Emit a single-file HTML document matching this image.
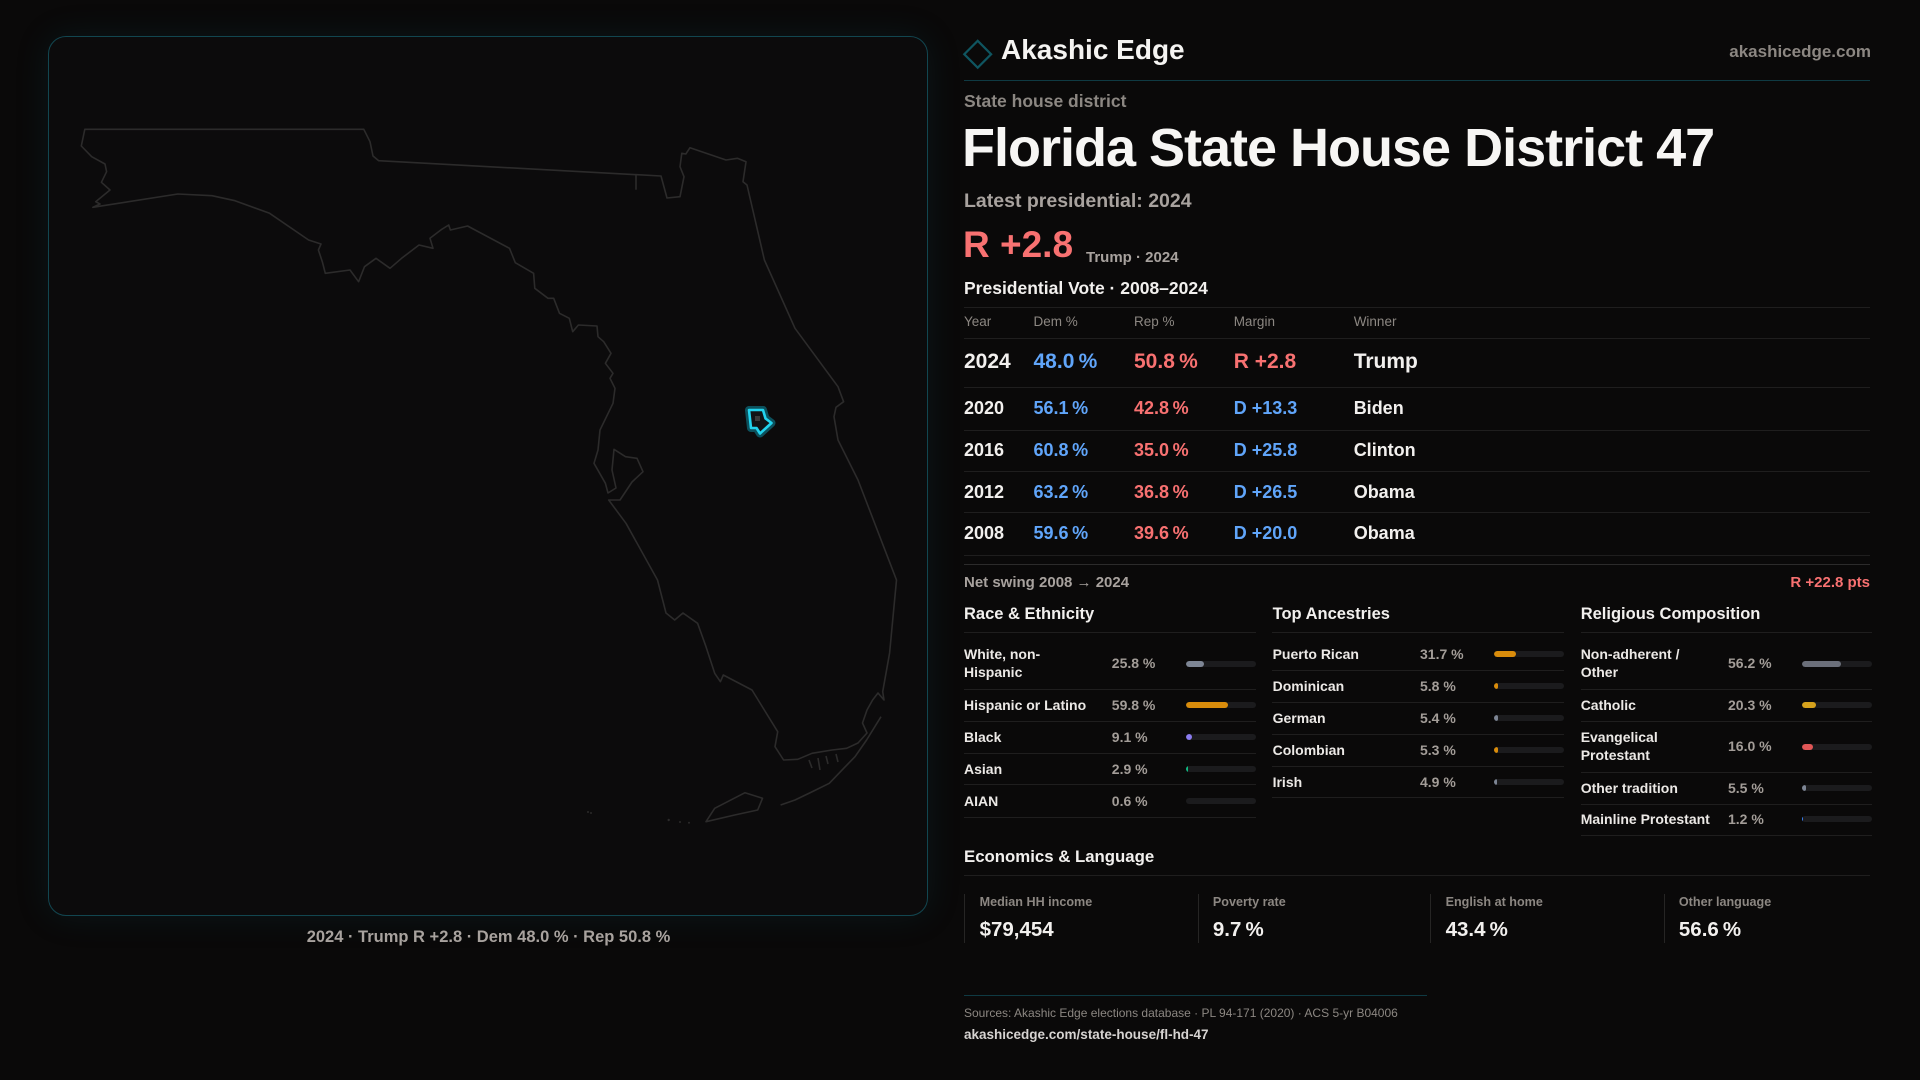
<!DOCTYPE html>
<html><head><meta charset="utf-8">
<style>
*{margin:0;padding:0;box-sizing:border-box}
html,body{width:1920px;height:1080px;background:#0a0909;overflow:hidden}
body{position:relative;font-family:"Liberation Sans",sans-serif;font-weight:700;color:#f2f0ee}
.t{position:absolute;white-space:nowrap}
.m{color:#8c8782}
.g{color:#a8a29e}
.b{color:#60a5fa}
.r{color:#f87171}
.hl{position:absolute;height:1px;background:#1f1e1e}
.bar{position:absolute;height:6px;width:70px;border-radius:3px;background:#1b1b1d;overflow:hidden}
.bar i{position:absolute;left:0;top:0;bottom:0;border-radius:3px}
.h18{font-size:18px;line-height:22px}
.h21{font-size:21px;line-height:26px}
.s14{font-size:14px;line-height:18px}
.lbl{font-size:14px;line-height:18.3px;color:#ece9e6}
.pct{font-size:14px;line-height:18px;color:#a39d98}
.sec{font-size:16.5px;line-height:20px;color:#f2f0ee}
.card{position:absolute;top:894px;height:49px;border-left:1px solid #262524;width:233px}
</style></head><body>

<!-- map panel -->
<div style="position:absolute;left:48px;top:36px;width:880px;height:880px;border:1px solid #124650;border-radius:18px;background:#0c0b0c;box-shadow:0 0 34px rgba(16,95,110,0.16)"></div>

<svg style="position:absolute;left:0;top:0" width="1920" height="1080" viewBox="0 0 1920 1080">
  <g fill="none" stroke="#2c2b2b" stroke-width="1.6" stroke-linejoin="round">
    <path d="M84.8,129.3 L363.8,129.3 L370,141.7 L373,156 L378.7,160.7 L661,176 L667,198 L680,196.7 L684,176.7 L680,166.7 L681.8,153.3 L685.8,154 L690,147.7 L726,160 L737.4,158.3 L746,161.7 L743,181.7 L747,185 L764.4,260 L795,328.3 L838,386.7 L843.6,401.7 L836,407.3 L834,416.7 L838,440 L858,480 L896.5,580 L889.6,653 L882.7,691.7 L884,700 L878,693 L872.6,700 L867,710 L862.5,723 L867,733 L858,743 L846.6,748.3 L832,750 L812,753.3 L797.8,759.3 L783.6,760 L775,746.7 L777.7,731.7 L752,690 L723.3,675 L720.4,681.7 L714.7,673.3 L706,646.7 L697.6,623.3 L683,613 L674.7,620 L666,613 L657.5,580 L626,523.3 L608.7,500 L620,500 L632,482 L643,471.7 L637,458.3 L625.5,456.7 L614,449.3 L612,470 L616,488 L608,493 L605.4,483.3 L594,463.3 L598,450 L600,430 L613,403.3 L615,388.3 L610,378.3 L613,373.3 L605.4,363.3 L611,353.3 L603.7,341.7 L598,336.7 L597,326 L578.4,325 L572.7,331.7 L569.3,318.3 L559.5,313.3 L553.7,298.3 L548,298.3 L534.8,288.3 L533.6,273.3 L515.3,262.7 L509.5,248.3 L467.6,226 L450.4,230 L448.7,225 L441.8,229.3 L430,238.3 L433,248.3 L419,245 L401.6,258.3 L390,268.3 L376,258.3 L364.5,266.7 L358.6,281.7 L350,270 L325.3,273.3 L322.4,262 L318.4,250 L321,244 L308.6,240 L269.6,213.3 L235,200.7 L212,195.7 L177.8,194 L92.8,207.3 L100,204 L95.7,201.7 L110,190 L101.4,182.3 L106.6,171.7 L105,164 L91.7,156.7 L81.3,146 Z"/>
    <path d="M636,174.7 L636,189.7"/>
    <path d="M881,716.7 L866.6,740 L855,756.7 L843.7,768.3 L829.3,783.3 L809.6,793 L795,800 L780.6,805"/>
    <path d="M762.5,798.3 L757.7,810 L734.7,815 L706,821.7 L714.7,808.3 L745,792.7 Z"/>
    <path d="M809,760 L812,768 M818,758 L820,770 M826,756 L828,764 M836,754 L838,762"/>
  </g>
  <g fill="#2c2b2b">
    <circle cx="588" cy="812" r="1"/><circle cx="591" cy="813" r="1"/>
    <circle cx="668.7" cy="820" r="1.2"/><circle cx="680" cy="822" r="1"/><circle cx="689" cy="822.7" r="1"/>
  </g>
  <!-- district -->
  <path d="M749,410 L763,410 L765.5,418.5 L771.5,423 L760,433.5 L756.5,428 L751,428 Z" fill="#111416" stroke="#0d6f80" stroke-opacity="0.7" stroke-width="8" stroke-linejoin="round"/>
  <path d="M749,410 L763,410 L765.5,418.5 L771.5,423 L760,433.5 L756.5,428 L751,428 Z" fill="#111416" stroke="#22d3ee" stroke-width="2.6" stroke-linejoin="round"/>
  <rect x="755" y="416" width="5" height="5" fill="#3a3a3a"/>
  <!-- logo diamond -->
  <rect x="968.2" y="44.8" width="19" height="19" fill="none" stroke="#0f5560" stroke-width="2.2" transform="rotate(45 977.7 54.3)"/>
</svg>

<div class="t g" style="left:0;width:977px;text-align:center;top:927px;font-size:16.5px;line-height:20px">2024 · Trump R +2.8 · Dem 48.0 % · Rep 50.8 %</div>

<!-- header -->
<div class="t" style="left:1001px;top:33px;font-size:28px;line-height:34px;color:#f5f4f2">Akashic Edge</div>
<div class="t m" style="right:49px;top:41.5px;font-size:17px;line-height:20px">akashicedge.com</div>
<div style="position:absolute;left:964px;top:80px;width:906px;height:1px;background:#0f3a43"></div>

<div class="t m" style="left:964px;top:91px;font-size:17.5px;line-height:21px">State house district</div>
<div class="t" style="left:962px;top:118px;font-size:54px;line-height:60px;letter-spacing:-1px;color:#f7f6f4">Florida State House District 47</div>
<div class="t g" style="left:964px;top:190px;font-size:19.5px;line-height:22px">Latest presidential: 2024</div>
<div class="t r" style="left:963px;top:223px;font-size:37px;line-height:44px">R +2.8</div>
<div class="t g" style="left:1086px;top:249px;font-size:15px;line-height:18px">Trump · 2024</div>
<div class="t" style="left:964px;top:277px;font-size:17.5px;line-height:22px">Presidential Vote · 2008–2024</div>

<!-- table -->
<div class="hl" style="left:964px;width:906px;top:307px"></div>
<div class="t m" style="left:964px;top:313px;font-size:13.5px;line-height:18px;font-weight:400">Year</div>
<div class="t m" style="left:1033.5px;top:313px;font-size:13.5px;line-height:18px;font-weight:400">Dem %</div>
<div class="t m" style="left:1134px;top:313px;font-size:13.5px;line-height:18px;font-weight:400">Rep %</div>
<div class="t m" style="left:1233.7px;top:313px;font-size:13.5px;line-height:18px;font-weight:400">Margin</div>
<div class="t m" style="left:1353.7px;top:313px;font-size:13.5px;line-height:18px;font-weight:400">Winner</div>
<div class="hl" style="left:964px;width:906px;top:338px"></div>

<div class="t h21" style="left:964px;top:348.7px">2024</div>
<div class="t h21 b" style="left:1033.5px;top:348.7px">48.0&thinsp;%</div>
<div class="t h21 r" style="left:1134px;top:348.7px">50.8&thinsp;%</div>
<div class="t h21 r" style="left:1233.7px;top:348.7px">R +2.8</div>
<div class="t h21" style="left:1353.7px;top:348.7px">Trump</div>
<div class="hl" style="left:964px;width:906px;top:387px"></div>

<div class="t h18" style="left:964px;top:397.3px">2020</div>
<div class="t h18 b" style="left:1033.5px;top:397.3px">56.1&thinsp;%</div>
<div class="t h18 r" style="left:1134px;top:397.3px">42.8&thinsp;%</div>
<div class="t h18 b" style="left:1233.7px;top:397.3px">D +13.3</div>
<div class="t h18" style="left:1353.7px;top:397.3px">Biden</div>
<div class="hl" style="left:964px;width:906px;top:430px"></div>

<div class="t h18" style="left:964px;top:439px">2016</div>
<div class="t h18 b" style="left:1033.5px;top:439px">60.8&thinsp;%</div>
<div class="t h18 r" style="left:1134px;top:439px">35.0&thinsp;%</div>
<div class="t h18 b" style="left:1233.7px;top:439px">D +25.8</div>
<div class="t h18" style="left:1353.7px;top:439px">Clinton</div>
<div class="hl" style="left:964px;width:906px;top:471px"></div>

<div class="t h18" style="left:964px;top:480.7px">2012</div>
<div class="t h18 b" style="left:1033.5px;top:480.7px">63.2&thinsp;%</div>
<div class="t h18 r" style="left:1134px;top:480.7px">36.8&thinsp;%</div>
<div class="t h18 b" style="left:1233.7px;top:480.7px">D +26.5</div>
<div class="t h18" style="left:1353.7px;top:480.7px">Obama</div>
<div class="hl" style="left:964px;width:906px;top:512px"></div>

<div class="t h18" style="left:964px;top:522.3px">2008</div>
<div class="t h18 b" style="left:1033.5px;top:522.3px">59.6&thinsp;%</div>
<div class="t h18 r" style="left:1134px;top:522.3px">39.6&thinsp;%</div>
<div class="t h18 b" style="left:1233.7px;top:522.3px">D +20.0</div>
<div class="t h18" style="left:1353.7px;top:522.3px">Obama</div>
<div class="hl" style="left:964px;width:906px;top:555px"></div>
<div class="hl" style="left:964px;width:906px;top:564px;background:#2c2b2b"></div>

<div class="t g" style="left:964px;top:573.7px;font-size:15px;line-height:18px">Net swing 2008 → 2024</div>
<div class="t r" style="right:50px;top:573.7px;font-size:15px;line-height:18px">R +22.8 pts</div>

<!-- Race & Ethnicity -->
<div class="t sec" style="left:964px;top:604px">Race &amp; Ethnicity</div>
<div class="hl" style="left:964px;width:292px;top:632px"></div>
<div class="t lbl" style="left:964px;top:645px">White, non-<br>Hispanic</div>
<div class="t pct" style="left:1111.8px;top:653.7px">25.8 %</div>
<div class="bar" style="left:1186px;top:661px"><i style="width:18px;background:#7d8594"></i></div>
<div class="hl" style="left:964px;width:292px;top:689px"></div>
<div class="t lbl" style="left:964px;top:696px">Hispanic or Latino</div>
<div class="t pct" style="left:1111.8px;top:696px">59.8 %</div>
<div class="bar" style="left:1186px;top:702px"><i style="width:42px;background:#d98c0b"></i></div>
<div class="hl" style="left:964px;width:292px;top:721px"></div>
<div class="t lbl" style="left:964px;top:727.7px">Black</div>
<div class="t pct" style="left:1111.8px;top:727.7px">9.1 %</div>
<div class="bar" style="left:1186px;top:733.7px"><i style="width:6.4px;background:#8b7cf0"></i></div>
<div class="hl" style="left:964px;width:292px;top:753px"></div>
<div class="t lbl" style="left:964px;top:760px">Asian</div>
<div class="t pct" style="left:1111.8px;top:760px">2.9 %</div>
<div class="bar" style="left:1186px;top:766px"><i style="width:2px;background:#10b981;border-radius:0"></i></div>
<div class="hl" style="left:964px;width:292px;top:784px"></div>
<div class="t lbl" style="left:964px;top:791.7px">AIAN</div>
<div class="t pct" style="left:1111.8px;top:791.7px">0.6 %</div>
<div class="bar" style="left:1186px;top:797.7px"></div>
<div class="hl" style="left:964px;width:292px;top:817px"></div>

<!-- Top Ancestries -->
<div class="t sec" style="left:1272.6px;top:604px">Top Ancestries</div>
<div class="hl" style="left:1272px;width:292px;top:632px"></div>
<div class="t lbl" style="left:1272.6px;top:645px">Puerto Rican</div>
<div class="t pct" style="left:1420px;top:645px">31.7 %</div>
<div class="bar" style="left:1494px;top:651px"><i style="width:22px;background:#d98c0b"></i></div>
<div class="hl" style="left:1272px;width:292px;top:670px"></div>
<div class="t lbl" style="left:1272.6px;top:677px">Dominican</div>
<div class="t pct" style="left:1420px;top:677px">5.8 %</div>
<div class="bar" style="left:1494px;top:683px"><i style="width:4px;background:#d98c0b"></i></div>
<div class="hl" style="left:1272px;width:292px;top:702px"></div>
<div class="t lbl" style="left:1272.6px;top:709px">German</div>
<div class="t pct" style="left:1420px;top:709px">5.4 %</div>
<div class="bar" style="left:1494px;top:715px"><i style="width:3.8px;background:#7d8594"></i></div>
<div class="hl" style="left:1272px;width:292px;top:734px"></div>
<div class="t lbl" style="left:1272.6px;top:741px">Colombian</div>
<div class="t pct" style="left:1420px;top:741px">5.3 %</div>
<div class="bar" style="left:1494px;top:747px"><i style="width:3.7px;background:#d98c0b"></i></div>
<div class="hl" style="left:1272px;width:292px;top:766px"></div>
<div class="t lbl" style="left:1272.6px;top:773px">Irish</div>
<div class="t pct" style="left:1420px;top:773px">4.9 %</div>
<div class="bar" style="left:1494px;top:779px"><i style="width:3.4px;background:#7d8594"></i></div>
<div class="hl" style="left:1272px;width:292px;top:797px"></div>

<!-- Religious Composition -->
<div class="t sec" style="left:1580.7px;top:604px">Religious Composition</div>
<div class="hl" style="left:1580.7px;width:291px;top:632px"></div>
<div class="t lbl" style="left:1580.7px;top:645px">Non-adherent /<br>Other</div>
<div class="t pct" style="left:1728px;top:654.3px">56.2 %</div>
<div class="bar" style="left:1802px;top:661px;width:69.5px"><i style="width:39px;background:#6b6f7a"></i></div>
<div class="hl" style="left:1580.7px;width:291px;top:689px"></div>
<div class="t lbl" style="left:1580.7px;top:696px">Catholic</div>
<div class="t pct" style="left:1728px;top:696px">20.3 %</div>
<div class="bar" style="left:1802px;top:702px;width:69.5px"><i style="width:14px;background:#d6a21c"></i></div>
<div class="hl" style="left:1580.7px;width:291px;top:721px"></div>
<div class="t lbl" style="left:1580.7px;top:727.5px">Evangelical<br>Protestant</div>
<div class="t pct" style="left:1728px;top:737px">16.0 %</div>
<div class="bar" style="left:1802px;top:743.7px;width:69.5px"><i style="width:11px;background:#e05656"></i></div>
<div class="hl" style="left:1580.7px;width:291px;top:771.7px"></div>
<div class="t lbl" style="left:1580.7px;top:779px">Other tradition</div>
<div class="t pct" style="left:1728px;top:779px">5.5 %</div>
<div class="bar" style="left:1802px;top:785px;width:69.5px"><i style="width:3.8px;background:#7d8594"></i></div>
<div class="hl" style="left:1580.7px;width:291px;top:804px"></div>
<div class="t lbl" style="left:1580.7px;top:810px">Mainline Protestant</div>
<div class="t pct" style="left:1728px;top:810px">1.2 %</div>
<div class="bar" style="left:1802px;top:816px;width:69.5px"><i style="width:1.2px;background:#3b82f6;border-radius:0"></i></div>
<div class="hl" style="left:1580.7px;width:291px;top:835px"></div>

<!-- Economics -->
<div class="t sec" style="left:964px;top:846.7px;font-size:16.8px">Economics &amp; Language</div>
<div class="hl" style="left:964px;width:906px;top:875px"></div>
<div class="card" style="left:964px"></div>
<div class="card" style="left:1197.6px"></div>
<div class="card" style="left:1430.3px"></div>
<div class="card" style="left:1663.6px"></div>
<div class="t m" style="left:979.6px;top:894.3px;font-size:12.6px;line-height:16px">Median HH income</div>
<div class="t m" style="left:1212.9px;top:894.3px;font-size:12.6px;line-height:16px">Poverty rate</div>
<div class="t m" style="left:1445.6px;top:894.3px;font-size:12.6px;line-height:16px">English at home</div>
<div class="t m" style="left:1678.9px;top:894.3px;font-size:12.6px;line-height:16px">Other language</div>
<div class="t" style="left:979.6px;top:916.5px;font-size:20.5px;line-height:25px">$79,454</div>
<div class="t" style="left:1212.9px;top:916.5px;font-size:20.5px;line-height:25px">9.7&thinsp;%</div>
<div class="t" style="left:1445.6px;top:916.5px;font-size:20.5px;line-height:25px">43.4&thinsp;%</div>
<div class="t" style="left:1678.9px;top:916.5px;font-size:20.5px;line-height:25px">56.6&thinsp;%</div>

<!-- footer -->
<div style="position:absolute;left:964px;top:995px;width:463px;height:1px;background:#0f3a43"></div>
<div class="t m" style="left:964px;top:1005.3px;font-size:12px;line-height:16px;font-weight:400">Sources: Akashic Edge elections database · PL 94-171 (2020) · ACS 5-yr B04006</div>
<div class="t" style="left:964px;top:1025.5px;font-size:13.5px;line-height:17px;color:#d6d3d1">akashicedge.com/state-house/fl-hd-47</div>

</body></html>
